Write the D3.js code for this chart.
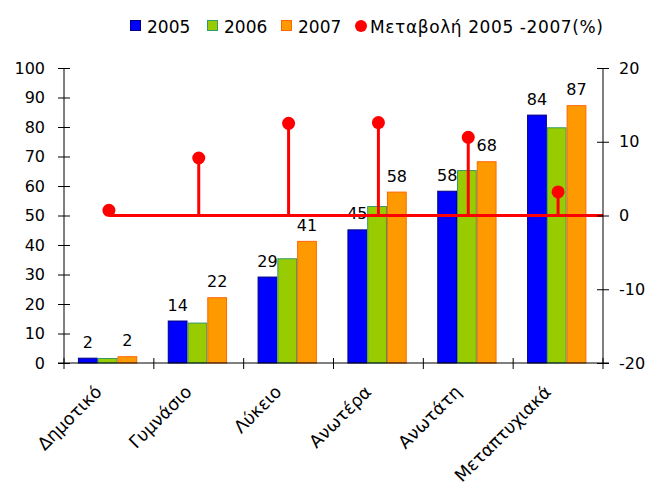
<!DOCTYPE html>
<meta charset="utf-8">
<script src="https://d3js.org/d3.v7.min.js"></script>
<style>
  body { margin: 0; background: #fff; }
  text { font-family: "DejaVu Sans", Verdana, sans-serif; font-size: 16px; fill: #000; }
</style>
<div id="my_dataviz"></div>
<script>

// data
var categories = ["Δημοτικό", "Γυμνάσιο", "Λύκειο", "Ανωτέρα", "Ανωτάτη", "Μεταπτυχιακά"];
var years = ["2005", "2006", "2007"];
var values2005 = [1.8, 14.4, 29.3, 45.3, 58.4, 84.2];
var values2006 = [1.7, 13.7, 35.5, 53.2, 65.4, 79.9];
var values2007 = [2.3, 22.3, 41.4, 58.1, 68.4, 87.4];
var change = [0.7, 7.8, 12.5, 12.6, 10.6, 3.2];   // Μεταβολή 2005-2007 (%)
var leftTicks = [0, 10, 20, 30, 40, 50, 60, 70, 80, 90, 100];
var rightTicks = [-20, -10, 0, 10, 20];
var legendLabels = ["2005", "2006", "2007", "Μεταβολή 2005 -2007(%)"];

var series = [values2005, values2006, values2007];
var fills = ["#0000ff", "#99cc00", "#ff9900"];
var strokes = ["#000080", "#339966", "#ff6600"];
var labelled = [true, false, true];

var margin = {top: 68, right: 58, bottom: 122, left: 64},
    width = 661 - margin.left - margin.right,
    height = 485 - margin.top - margin.bottom;

var svg = d3.select("#my_dataviz")
  .append("svg")
    .attr("width", 661)
    .attr("height", 485)
  .append("g")
    .attr("transform", "translate(" + margin.left + "," + margin.top + ")");

// scales
var x = d3.scaleBand().domain(categories).range([0, width]);
var x1 = d3.scaleBand().domain(years)
  .range([x.bandwidth() * 0.155, x.bandwidth() * 0.815]);
var y = d3.scaleLinear().domain([0, 100]).range([height, 0]);
var y2 = d3.scaleLinear().domain([-20, 20]).range([height, 0]);

// bars
years.forEach(function(yr, i) {
  var g = svg.append("g");
  g.selectAll("rect")
    .data(series[i])
    .enter()
    .append("rect")
      .attr("x", function(d, j) { return x(categories[j]) + x1(yr) + 0.5; })
      .attr("y", function(d) { return y(d) + 0.5; })
      .attr("width", x1.bandwidth() - 1)
      .attr("height", function(d) { return height - y(d) - 0.5; })
      .attr("fill", fills[i])
      .attr("stroke", strokes[i])
      .attr("stroke-width", 1);
  if (labelled[i]) {
    g.selectAll("text")
      .data(series[i])
      .enter()
      .append("text")
        .attr("x", function(d, j) { return x(categories[j]) + x1(yr) + x1.bandwidth() / 2; })
        .attr("y", function(d) { return y(d) - 10; })
        .attr("text-anchor", "middle")
        .text(function(d) { return Math.round(d); });
  }
});

// change series: zero line, stems and dots
var cx = function(j) { return x(categories[j]) + x.bandwidth() / 2; };
svg.append("line")
  .attr("x1", cx(0)).attr("x2", width)
  .attr("y1", y2(0)).attr("y2", y2(0))
  .attr("stroke", "#ff0000").attr("stroke-width", 3);
svg.selectAll(".stem")
  .data(change)
  .enter()
  .append("line")
    .attr("x1", function(d, j) { return cx(j); })
    .attr("x2", function(d, j) { return cx(j); })
    .attr("y1", y2(0))
    .attr("y2", function(d) { return y2(d); })
    .attr("stroke", "#ff0000").attr("stroke-width", 3);
svg.selectAll(".dot")
  .data(change)
  .enter()
  .append("circle")
    .attr("cx", function(d, j) { return cx(j); })
    .attr("cy", function(d) { return y2(d); })
    .attr("r", 6.5)
    .attr("fill", "#ff0000");

// axes (ticks crossing the axis line)
var yAxis = svg.append("g")
  .call(d3.axisLeft(y).tickValues(leftTicks).tickSize(6).tickPadding(13));
yAxis.selectAll(".tick line").attr("x2", 6).attr("x1", -6);

var y2Axis = svg.append("g")
  .attr("transform", "translate(" + width + ",0)")
  .call(d3.axisRight(y2).tickValues(rightTicks).tickSize(6).tickPadding(10)
    .tickFormat(function(d) { return d < 0 ? "-" + Math.abs(d) : d; }));
y2Axis.selectAll(".tick line").attr("x1", -6).attr("x2", 6);

var xAxis = svg.append("g")
  .attr("transform", "translate(0," + height + ")")
  .call(d3.axisBottom(x).tickSize(0).tickFormat(""));
xAxis.selectAll(".tick").remove();
xAxis.selectAll(".sep")
  .data(d3.range(categories.length + 1))
  .enter()
  .append("line")
    .attr("x1", function(d) { return d * x.bandwidth(); })
    .attr("x2", function(d) { return d * x.bandwidth(); })
    .attr("y1", -5).attr("y2", 6)
    .attr("stroke", "#000");

[yAxis, y2Axis, xAxis].forEach(function(a) {
  a.select(".domain").attr("stroke", "#000");
  a.selectAll(".tick line").attr("stroke", "#000");
  a.selectAll("text").style("font-size", "16px")
    .style("font-family", "'DejaVu Sans', Verdana, sans-serif").attr("fill", "#000");
});
yAxis.select(".domain").attr("d", "M0," + height + "V0");
y2Axis.select(".domain").attr("d", "M0," + height + "V0");
xAxis.select(".domain").attr("d", "M-6,0H" + (width + 6));

// rotated category labels
svg.selectAll(".cat")
  .data(categories)
  .enter()
  .append("text")
    .attr("transform", function(d) {
      return "translate(" + (x(d) + x.bandwidth() / 2 - 6) + "," + (height + 30) + ")rotate(-45)";
    })
    .attr("text-anchor", "end")
    .style("font-size", "17.5px")
    .text(function(d) { return d; });

// legend
var legend = d3.select("svg").append("g").attr("transform", "translate(130,20)");
var lx = [0, 77, 151, 225];
legendLabels.forEach(function(lab, i) {
  var item = legend.append("g").attr("transform", "translate(" + lx[i] + ",0)");
  if (i < 3) {
    item.append("rect")
      .attr("x", 0.5).attr("y", 0.5).attr("width", 10).attr("height", 10)
      .attr("fill", fills[i]).attr("stroke", strokes[i]);
  } else {
    item.append("circle").attr("cx", 6).attr("cy", 6).attr("r", 6).attr("fill", "#ff0000");
  }
  item.append("text").attr("x", i < 3 ? 17 : 15).attr("y", 12.5)
    .style("font-size", "17px")
    .style("letter-spacing", i < 3 ? "0px" : "0.6px")
    .text(lab);
});

</script>
